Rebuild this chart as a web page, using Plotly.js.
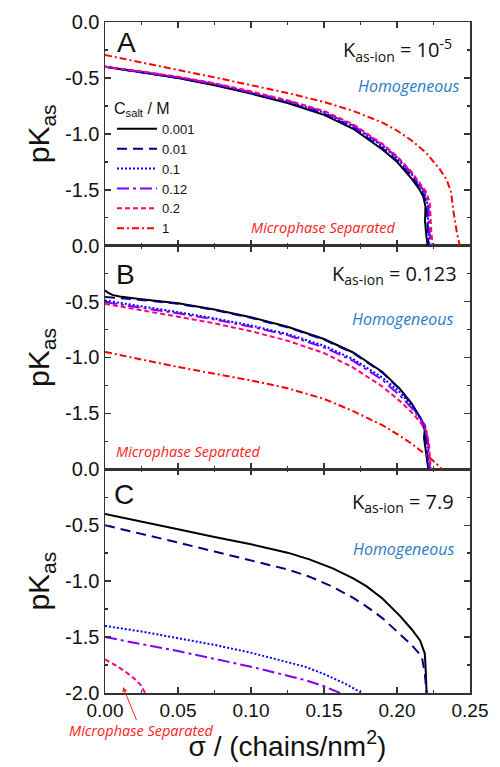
<!DOCTYPE html>
<html>
<head>
<meta charset="utf-8">
<script src="https://cdn.plot.ly/plotly-3.0.1.min.js"></script>
<style>html,body{margin:0;padding:0;background:#fff;}#chart{width:500px;height:767px;}</style>
</head>
<body>
<div id="chart"></div>
<script>
// ---------------- DATA ----------------
const saltLabels = ['0.001', '0.01', '0.1', '0.12', '0.2', '1'];
const kasIonLabels = ['10<sup>-5</sup>', '0.123', '7.9'];
const panelLetters = ['A', 'B', 'C'];
const xTickVals = [0, 0.05, 0.10, 0.15, 0.20, 0.25];
const xTickText = ['0.00', '0.05', '0.10', '0.15', '0.20', '0.25'];
const yTickValsTop = [0, -0.5, -1.0, -1.5];
const yTickTextTop = ['0.0', '-0.5', '-1.0', '-1.5'];
const yTickValsBottom = [0, -0.5, -1.0, -1.5, -2.0];
const yTickTextBottom = ['0.0', '-0.5', '-1.0', '-1.5', '-2.0'];

// Panel A (K_as-ion = 1e-5)
const sigA_0001 = [0, 0.025, 0.05, 0.075, 0.1, 0.125, 0.15, 0.17, 0.19, 0.2, 0.21, 0.215, 0.218, 0.2195, 0.2192, 0.2200, 0.221];
const pkA_0001  = [-0.40, -0.45, -0.50, -0.565, -0.64, -0.725, -0.83, -0.955, -1.14, -1.25, -1.40, -1.49, -1.56, -1.65, -1.78, -1.90, -2.0];
const sigA_001 = [0, 0.025, 0.05, 0.075, 0.1, 0.125, 0.15, 0.17, 0.19, 0.2, 0.21, 0.215, 0.2185, 0.2203, 0.2205, 0.2212, 0.2215];
const pkA_001  = [-0.40, -0.45, -0.50, -0.56, -0.635, -0.72, -0.82, -0.945, -1.13, -1.24, -1.38, -1.47, -1.55, -1.64, -1.77, -1.90, -2.0];
const sigA_01 = [0, 0.025, 0.05, 0.075, 0.1, 0.125, 0.15, 0.17, 0.19, 0.2, 0.21, 0.215, 0.219, 0.221, 0.2212, 0.2218, 0.222];
const pkA_01  = [-0.40, -0.445, -0.495, -0.555, -0.63, -0.71, -0.81, -0.935, -1.11, -1.22, -1.36, -1.45, -1.54, -1.63, -1.76, -1.89, -2.0];
const sigA_012 = [0, 0.025, 0.05, 0.075, 0.1, 0.125, 0.15, 0.17, 0.19, 0.2, 0.21, 0.215, 0.2195, 0.2215, 0.2218, 0.2222, 0.2228];
const pkA_012  = [-0.40, -0.445, -0.495, -0.553, -0.627, -0.705, -0.805, -0.925, -1.10, -1.21, -1.35, -1.44, -1.53, -1.62, -1.75, -1.88, -2.0];
const sigA_02 = [0, 0.025, 0.05, 0.075, 0.1, 0.125, 0.15, 0.17, 0.19, 0.2, 0.21, 0.215, 0.22, 0.2225, 0.2228, 0.2235, 0.2245];
const pkA_02  = [-0.40, -0.44, -0.49, -0.548, -0.62, -0.70, -0.795, -0.915, -1.09, -1.20, -1.34, -1.43, -1.52, -1.62, -1.75, -1.88, -2.0];
const sigA_1 = [0, 0.025, 0.05, 0.075, 0.1, 0.125, 0.15, 0.17, 0.19, 0.2, 0.21, 0.22, 0.2295, 0.234, 0.237, 0.2385, 0.241, 0.243];
const pkA_1  = [-0.295, -0.36, -0.43, -0.495, -0.565, -0.635, -0.715, -0.795, -0.90, -0.97, -1.06, -1.17, -1.32, -1.41, -1.52, -1.68, -1.88, -2.0];

// Panel B (K_as-ion = 0.123)
const sigB_0001 = [0, 0.002, 0.005, 0.01, 0.025, 0.05, 0.075, 0.1, 0.125, 0.15, 0.17, 0.19, 0.202, 0.21, 0.217, 0.219, 0.2185, 0.2195, 0.2203, 0.2215];
const pkB_0001  = [-0.40, -0.42, -0.44, -0.455, -0.48, -0.515, -0.57, -0.64, -0.725, -0.835, -0.955, -1.13, -1.28, -1.41, -1.56, -1.65, -1.72, -1.80, -1.87, -2.0];
const sigB_001 = [0, 0.01, 0.025, 0.05, 0.075, 0.1, 0.125, 0.15, 0.17, 0.19, 0.202, 0.21, 0.217, 0.2195, 0.2205, 0.2215];
const pkB_001  = [-0.46, -0.47, -0.485, -0.52, -0.575, -0.645, -0.73, -0.84, -0.96, -1.135, -1.285, -1.42, -1.57, -1.68, -1.85, -2.0];
const sigB_01 = [0, 0.025, 0.05, 0.075, 0.1, 0.125, 0.15, 0.17, 0.19, 0.202, 0.21, 0.218, 0.2205, 0.2212, 0.2215];
const pkB_01  = [-0.49, -0.54, -0.595, -0.65, -0.714, -0.79, -0.895, -1.015, -1.18, -1.31, -1.43, -1.59, -1.72, -1.86, -2.0];
const sigB_012 = [0, 0.025, 0.05, 0.075, 0.1, 0.125, 0.15, 0.17, 0.19, 0.202, 0.21, 0.219, 0.2212, 0.2218, 0.2226];
const pkB_012  = [-0.506, -0.555, -0.605, -0.66, -0.725, -0.80, -0.91, -1.03, -1.20, -1.34, -1.45, -1.60, -1.74, -1.87, -2.0];
const sigB_02 = [0, 0.025, 0.05, 0.075, 0.1, 0.125, 0.15, 0.17, 0.19, 0.202, 0.21, 0.216, 0.2203, 0.222, 0.2226, 0.2235];
const pkB_02  = [-0.52, -0.575, -0.635, -0.695, -0.765, -0.85, -0.96, -1.09, -1.26, -1.39, -1.49, -1.58, -1.66, -1.78, -1.92, -2.0];
const sigB_1 = [0, 0.025, 0.05, 0.075, 0.1, 0.125, 0.15, 0.17, 0.19, 0.202, 0.21, 0.2158, 0.222, 0.2295, 0.231];
const pkB_1  = [-0.95, -1.02, -1.085, -1.145, -1.205, -1.275, -1.37, -1.48, -1.605, -1.70, -1.77, -1.83, -1.89, -1.98, -2.0];

// Panel C (K_as-ion = 7.9)
const sigC_0001 = [0, 0.025, 0.05, 0.075, 0.1, 0.125, 0.14, 0.156, 0.17, 0.179, 0.19, 0.202, 0.21, 0.2158, 0.219, 0.2195, 0.2198, 0.2203];
const pkC_0001  = [-0.40, -0.465, -0.535, -0.605, -0.67, -0.745, -0.805, -0.886, -0.975, -1.045, -1.155, -1.31, -1.43, -1.53, -1.645, -1.75, -1.88, -2.0];
const sigC_001 = [0, 0.025, 0.05, 0.075, 0.1, 0.125, 0.14, 0.156, 0.17, 0.179, 0.19, 0.202, 0.21, 0.217, 0.219, 0.2203];
const pkC_001  = [-0.50, -0.575, -0.655, -0.735, -0.815, -0.895, -0.96, -1.05, -1.15, -1.225, -1.33, -1.47, -1.57, -1.675, -1.82, -2.0];
const sigC_01 = [0, 0.025, 0.05, 0.075, 0.1, 0.125, 0.137, 0.15, 0.165, 0.176];
const pkC_01  = [-1.40, -1.45, -1.51, -1.57, -1.64, -1.72, -1.765, -1.83, -1.92, -2.0];
const sigC_012 = [0, 0.025, 0.05, 0.075, 0.1, 0.125, 0.137, 0.15, 0.161];
const pkC_012  = [-1.50, -1.56, -1.625, -1.695, -1.765, -1.845, -1.884, -1.94, -2.0];
const sigC_02 = [0, 0.007, 0.014, 0.02, 0.0245, 0.0275];
const pkC_02  = [-1.70, -1.75, -1.81, -1.87, -1.93, -2.0];
const sigC_1 = [];
const pkC_1  = [];

// ---------------- STYLE ----------------
const lineStyles = [
  {color: '#000000', dash: 'solid', width: 2},
  {color: '#00007f', dash: '10px,6px', width: 2},
  {color: '#0000ff', dash: '2px,2px', width: 2},
  {color: '#7f00ff', dash: '12px,4px,3px,4px', width: 2},
  {color: '#ff0080', dash: '5px,3px', width: 2},
  {color: '#ff0000', dash: '7px,3px,2px,3px', width: 2}
];

const panels = [
  {xa: 'x3', ya: 'y3', series: [[sigA_0001, pkA_0001], [sigA_001, pkA_001], [sigA_01, pkA_01], [sigA_012, pkA_012], [sigA_02, pkA_02], [sigA_1, pkA_1]]},
  {xa: 'x2', ya: 'y2', series: [[sigB_0001, pkB_0001], [sigB_001, pkB_001], [sigB_01, pkB_01], [sigB_012, pkB_012], [sigB_02, pkB_02], [sigB_1, pkB_1]]},
  {xa: 'x', ya: 'y', series: [[sigC_0001, pkC_0001], [sigC_001, pkC_001], [sigC_01, pkC_01], [sigC_012, pkC_012], [sigC_02, pkC_02], [sigC_1, pkC_1]]}
];

const traces = [];
panels.forEach(function (p, pi) {
  p.series.forEach(function (s, si) {
    traces.push({
      type: 'scatter', mode: 'lines', x: s[0], y: s[1],
      xaxis: p.xa, yaxis: p.ya,
      name: saltLabels[si], showlegend: pi === 0,
      line: lineStyles[si], hoverinfo: 'skip'
    });
  });
});

// geometry helpers (pixel -> paper)
const L = 105, R = 30, T = 22, B = 74, W = 500, H = 767;
const pw = W - L - R, ph = H - T - B;
function px(x) { return (x - L) / pw; }
function py(y) { return (H - B - y) / ph; }

const axisCol = '#333333';
const tickFont = {family: 'Liberation Sans, Arial, sans-serif', size: 20, color: '#111'};

function xAxis(anchor, showLabels) {
  return {
    anchor: anchor, range: [0, 0.25], domain: [0, 1],
    tickvals: xTickVals, ticktext: xTickText, showticklabels: showLabels,
    ticks: 'inside', ticklen: 6, tickwidth: 1.5, tickcolor: axisCol,
    minor: {ticks: 'inside', ticklen: 3, tickwidth: 1.5, tickcolor: axisCol, dtick: 0.025, tick0: 0},
    showline: true, linecolor: axisCol, linewidth: 1.5, mirror: 'allticks',
    showgrid: false, zeroline: false,
    tickfont: {family: 'Liberation Sans, Arial, sans-serif', size: 19, color: '#111'},
    matches: anchor === 'y' ? undefined : 'x'
  };
}
function yAxis(anchor, domain, vals, text) {
  return {
    anchor: anchor, range: [-2, 0], domain: domain,
    tickvals: vals, ticktext: text,
    ticks: 'inside', ticklen: 6, tickwidth: 1.5, tickcolor: axisCol,
    minor: {ticks: 'inside', ticklen: 3, tickwidth: 1.5, tickcolor: axisCol, dtick: 0.25, tick0: 0},
    showline: true, linecolor: axisCol, linewidth: 1.5, mirror: 'allticks',
    showgrid: false, zeroline: false, tickfont: tickFont,
    title: {text: 'pK<sub>as</sub>', font: {family: 'Liberation Sans, Arial, sans-serif', size: 30, color: '#111'}, standoff: 6}
  };
}

const xt = xAxis('y', true);
xt.title = {text: 'σ / (chains/nm<sup>2</sup>)', font: {family: 'Liberation Sans, Arial, sans-serif', size: 28, color: '#111'}, standoff: 16};

const annFont = 'Liberation Sans, Arial, sans-serif';
const softFont = 'Open Sans, Noto Sans, sans-serif';
const annotations = [];
// panel letters
[[126, 43], [125, 274], [124, 494]].forEach(function (p, i) {
  annotations.push({xref: 'paper', yref: 'paper', x: px(p[0]), y: py(p[1]), text: panelLetters[i], showarrow: false,
    font: {family: annFont, size: 28, color: '#111'}, xanchor: 'center', yanchor: 'middle'});
});
// K_as-ion labels
[[454, 50], [459, 274], [456, 502]].forEach(function (p, i) {
  annotations.push({xref: 'paper', yref: 'paper', x: px(p[0]), y: py(p[1]), text: 'K<sub>as-ion</sub> = ' + kasIonLabels[i], showarrow: false,
    font: {family: softFont, size: 20, color: '#111'}, xanchor: 'right', yanchor: 'middle'});
});
// Homogeneous
[[409, 86], [403, 319], [404, 549]].forEach(function (p) {
  annotations.push({xref: 'paper', yref: 'paper', x: px(p[0]), y: py(p[1]), text: '<i>Homogeneous</i>', showarrow: false,
    font: {family: softFont, size: 16, color: '#2a7ac8'}, xanchor: 'center', yanchor: 'middle'});
});
// Microphase separated
[[323, 227], [188, 451]].forEach(function (p) {
  annotations.push({xref: 'paper', yref: 'paper', x: px(p[0]), y: py(p[1]), text: '<i>Microphase Separated</i>', showarrow: false,
    font: {family: softFont, size: 14.5, color: '#ff2020'}, xanchor: 'center', yanchor: 'middle'});
});
annotations.push({xref: 'x', yref: 'y', x: 0.0123, y: -1.946, ax: 18, ay: 44, text: '<i>Microphase Separated</i>', showarrow: true,
  arrowhead: 2, arrowsize: 1, arrowwidth: 1, arrowcolor: '#ff2020', standoff: 0,
  font: {family: softFont, size: 14.5, color: '#ff2020'}});

const layout = {
  width: W, height: H,
  margin: {l: L, r: R, t: T, b: B},
  paper_bgcolor: '#ffffff', plot_bgcolor: '#ffffff',
  showlegend: true,
  legend: {
    x: px(112), y: py(93), xanchor: 'left', yanchor: 'top',
    bgcolor: 'rgba(0,0,0,0)', borderwidth: 0, traceorder: 'normal',
    itemwidth: 40, tracegroupgap: 0,
    font: {family: 'Liberation Sans, Arial, sans-serif', size: 13, color: '#111'},
    title: {text: 'C<sub>salt</sub> / M', font: {family: 'Liberation Sans, Arial, sans-serif', size: 16, color: '#111'}}
  },
  xaxis: xt,
  xaxis2: xAxis('y2', false),
  xaxis3: xAxis('y3', false),
  yaxis: yAxis('x', [0, 1 / 3], yTickValsBottom, yTickTextBottom),
  yaxis2: yAxis('x2', [1 / 3, 2 / 3], yTickValsTop, yTickTextTop),
  yaxis3: yAxis('x3', [2 / 3, 1], yTickValsTop, yTickTextTop),
  annotations: annotations
};

Plotly.newPlot('chart', traces, layout, {staticPlot: true, displayModeBar: false});
</script>
</body>
</html>
